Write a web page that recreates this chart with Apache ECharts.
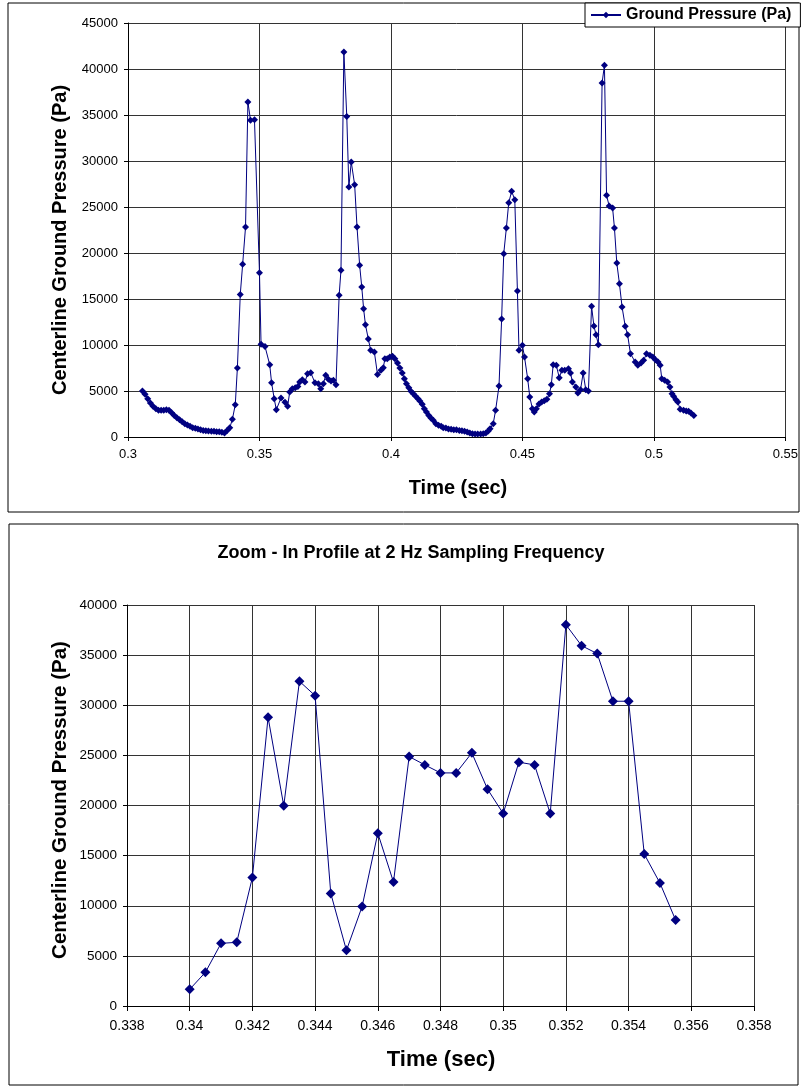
<!DOCTYPE html>
<html>
<head>
<meta charset="utf-8">
<script src="https://cdn.jsdelivr.net/npm/echarts@6/dist/echarts.min.js"></script>
<style>
html,body{margin:0;padding:0;background:#fff;}
#c{width:801px;height:1088px;}
</style>
</head>
<body>
<div id="c"></div>
<script>
// ---- Top chart: full record ----
var topTimes = [
0.3055,0.3065,0.3075,0.3085,0.3095,0.3106,0.3116,0.3126,0.3136,0.3146,
0.3156,0.3166,0.3176,0.3186,0.3196,0.3206,0.3216,0.3226,0.3236,0.3246,
0.3256,0.3266,0.3276,0.3286,0.3296,0.3306,0.3317,0.3327,0.3337,0.3347,
0.3357,0.3367,0.3377,0.3387,0.3397,0.3408,0.3416,0.3427,0.3436,0.3447,
0.3456,0.3466,0.3481,0.3500,0.3506,0.3521,0.3539,0.3546,0.3556,0.3564,
0.3582,0.3597,0.3607,0.3615,0.3625,0.3636,0.3646,0.3653,0.3663,0.3673,
0.3683,0.3695,0.3711,0.3724,0.3733,0.3743,0.3752,0.3762,0.3772,0.3781,
0.3791,0.3803,0.3810,0.3821,0.3832,0.3840,0.3849,0.3862,0.3871,0.3881,
0.3889,0.3896,0.3903,0.3914,0.3923,0.3937,0.3949,0.3962,0.3971,0.3977,
0.3986,0.3996,0.4006,0.4015,0.4025,0.4034,0.4043,0.4051,0.4059,0.4068,
0.4076,0.4085,0.4094,0.4103,0.4110,0.4119,0.4127,0.4135,0.4144,0.4152,
0.4161,0.4171,0.4181,0.4191,0.4199,0.4209,0.4219,0.4229,0.4239,0.4249,
0.4260,0.4270,0.4280,0.4290,0.4300,0.4310,0.4320,0.4330,0.4341,0.4351,
0.4361,0.4370,0.4377,0.4389,0.4398,0.4411,0.4421,0.4429,0.4439,0.4448,
0.4459,0.4471,0.4481,0.4487,0.4500,0.4508,0.4520,0.4528,0.4538,0.4545,
0.4553,0.4563,0.4573,0.4583,0.4593,0.4603,0.4610,0.4617,0.4629,0.4640,
0.4650,0.4661,0.4675,0.4683,0.4690,0.4703,0.4711,0.4721,0.4731,0.4741,
0.4751,0.4763,0.4772,0.4780,0.4789,0.4803,0.4812,0.4820,0.4830,0.4843,
0.4850,0.4859,0.4869,0.4879,0.4891,0.4900,0.4911,0.4929,0.4939,0.4951,
0.4961,0.4972,0.4985,0.4996,0.5006,0.5016,0.5024,0.5030,0.5041,0.5052,
0.5061,0.5069,0.5075,0.5084,0.5091,0.5100,0.5113,0.5123,0.5132,0.5141,
0.5152
];
var topPressure = [
5000,4640,4170,3700,3330,3080,2900,2900,2900,2970,
2900,2640,2350,2100,1880,1670,1450,1300,1160,1010,
940,870,800,720,690,650,620,620,580,580,
510,430,720,1010,1920,3510,7500,15500,18770,22830,
36410,34420,34490,17860,10070,9850,7860,5900,4170,2970,
4240,3790,3330,4890,5250,5360,5500,5980,6230,5980,
6880,6990,5900,5800,5250,5800,6700,6270,6090,6160,
5690,15400,18120,41850,34850,27170,29890,27430,22830,18660,
16300,13950,12210,10650,9420,9240,6780,7250,7540,8510,
8510,8700,8770,8510,8040,7500,6960,6340,5800,5360,
4960,4710,4420,4170,3910,3550,3080,2720,2350,2070,
1810,1450,1270,1160,1010,980,870,830,800,800,
720,690,620,540,430,360,330,330,330,360,
430,650,910,1450,2900,5540,12830,19930,22720,25470,
26700,25800,15870,9420,9960,8700,6340,4350,3080,2720,
3080,3600,3800,3950,4090,4700,5690,7860,7790,6450,
7250,7250,7430,6960,5980,5430,4780,5140,6960,5140,
5000,14200,12060,11120,10040,38480,40400,26270,25110,24890,
22720,18910,16670,14130,12030,11120,9060,8150,7790,8040,
8330,9060,8880,8700,8410,8150,7790,6340,6160,5980,
5430,4710,4420,4060,3800,3010,2900,2830,2790,2610,
2350
];

// ---- Bottom chart: zoom-in profile ----
var zoomTimes = [
0.3400,0.3405,0.3410,0.3415,0.3420,0.3425,0.3430,0.3435,0.3440,0.3445,
0.3450,0.3455,0.3460,0.3465,0.3470,0.3475,0.3480,0.3485,0.3490,0.3495,
0.3500,0.3505,0.3510,0.3515,0.3520,0.3525,0.3530,0.3535,0.3540,0.3545,
0.3550,0.3555
];
var zoomPressure = [
1660,3360,6250,6350,12820,28800,19970,32390,30960,11230,
5550,9930,17240,12360,24880,24050,23250,23250,25250,21630,
19200,24320,24050,19200,38040,35940,35150,30400,30400,15150,
12260,8570
];

var topXTicks = {min:0.3, max:0.55, interval:0.05};
var topYTicks = {min:0, max:45000, interval:5000};
var zoomXTicks = {min:0.338, max:0.358, interval:0.002};
var zoomYTicks = {min:0, max:40000, interval:5000};

var seriesName = 'Ground Pressure (Pa)';
var titleText = 'Zoom - In Profile at 2 Hz Sampling Frequency';
var yTitle = 'Centerline Ground Pressure (Pa)';
var xTitle = 'Time (sec)';

function zip(a, b){ return a.map(function(v,i){ return [v, b[i]]; }); }
function fmtX(v){ return String(parseFloat(v.toFixed(4))); }
function fmtY(v){ return String(Math.round(v)); }

var FONT = 'Liberation Sans, Arial, sans-serif';
var NAVY = '#000080';
var gridLine = {show:true, lineStyle:{color:'#333', width:1}};

var chart = echarts.init(document.getElementById('c'), null, {renderer:'canvas'});
chart.setOption({
  animation:false,
  backgroundColor:'#fff',
  textStyle:{fontFamily:FONT},
  legend:{
    data:[seriesName],
    left:585, top:3,
    orient:'horizontal',
    backgroundColor:'#fff',
    borderColor:'#000', borderWidth:1,
    padding:[4,9,4,5],
    itemWidth:30, itemHeight:8, itemGap:4,
    textStyle:{fontFamily:FONT, fontSize:16, fontWeight:'bold', color:'#000'}
  },
  grid:[
    {left:128, top:23, right:15, bottom:651, containLabel:false},
    {left:127, top:605, right:47, bottom:82, containLabel:false}
  ],
  xAxis:[
    {gridIndex:0, type:'value', min:topXTicks.min, max:topXTicks.max, interval:topXTicks.interval,
     axisLine:{onZero:false, lineStyle:{color:'#000'}}, axisTick:{show:true, length:4, lineStyle:{color:'#000'}},
     axisLabel:{color:'#000', fontSize:13, margin:11, formatter:fmtX, fontFamily:FONT},
     splitLine:gridLine},
    {gridIndex:1, type:'value', min:zoomXTicks.min, max:zoomXTicks.max, interval:zoomXTicks.interval,
     axisLine:{onZero:false, lineStyle:{color:'#000'}}, axisTick:{show:true, length:5, lineStyle:{color:'#000'}},
     axisLabel:{color:'#000', fontSize:14, margin:13, formatter:fmtX, fontFamily:FONT},
     splitLine:gridLine}
  ],
  yAxis:[
    {gridIndex:0, type:'value', min:topYTicks.min, max:topYTicks.max, interval:topYTicks.interval,
     axisLine:{show:true, lineStyle:{color:'#000'}}, axisTick:{show:true, length:4, lineStyle:{color:'#000'}},
     axisLabel:{color:'#000', fontSize:13, margin:10, formatter:fmtY, fontFamily:FONT},
     splitLine:gridLine},
    {gridIndex:1, type:'value', min:zoomYTicks.min, max:zoomYTicks.max, interval:zoomYTicks.interval,
     axisLine:{show:true, lineStyle:{color:'#000'}}, axisTick:{show:true, length:4, lineStyle:{color:'#000'}},
     axisLabel:{color:'#000', fontSize:13.5, margin:10, formatter:fmtY, fontFamily:FONT},
     splitLine:gridLine}
  ],
  series:[
    {name:seriesName, type:'line', xAxisIndex:0, yAxisIndex:0, data:zip(topTimes, topPressure),
     symbol:'diamond', symbolSize:7, showAllSymbol:true,
     lineStyle:{color:NAVY, width:1}, itemStyle:{color:NAVY}},
    {name:'zoom', type:'line', xAxisIndex:1, yAxisIndex:1, data:zip(zoomTimes, zoomPressure),
     symbol:'diamond', symbolSize:10, showAllSymbol:true,
     lineStyle:{color:NAVY, width:1}, itemStyle:{color:NAVY}}
  ],
  graphic:[
    {type:'rect', shape:{x:8, y:3, width:791, height:509}, style:{fill:'none', stroke:'#000', lineWidth:1}, z:-1},
    {type:'rect', shape:{x:9, y:524, width:789, height:561}, style:{fill:'none', stroke:'#000', lineWidth:1}, z:-1},
    {type:'text', x:60, y:240, rotation:Math.PI/2,
     style:{text:yTitle, font:'bold 20px '+FONT, fill:'#000', textAlign:'center', textVerticalAlign:'middle'}},
    {type:'text', x:60, y:800, rotation:Math.PI/2,
     style:{text:yTitle, font:'bold 20.5px '+FONT, fill:'#000', textAlign:'center', textVerticalAlign:'middle'}},
    {type:'text', x:458, y:488,
     style:{text:xTitle, font:'bold 20px '+FONT, fill:'#000', textAlign:'center', textVerticalAlign:'middle'}},
    {type:'text', x:441, y:1060,
     style:{text:xTitle, font:'bold 22px '+FONT, fill:'#000', textAlign:'center', textVerticalAlign:'middle'}},
    {type:'text', x:411, y:553,
     style:{text:titleText, font:'bold 18px '+FONT, fill:'#000', textAlign:'center', textVerticalAlign:'middle'}}
  ]
});
</script>
</body>
</html>
